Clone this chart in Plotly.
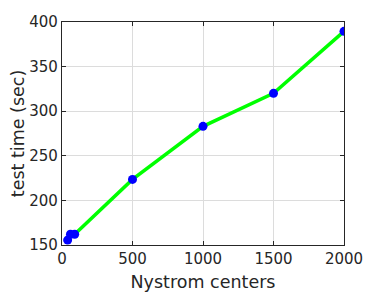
import plotly.graph_objects as go

centers = [40, 60, 90, 500, 1000, 1500, 2000]
test_time = [155.5, 162, 162, 223.5, 283, 320, 389.5]

fig = go.Figure()
fig.add_trace(go.Scatter(
    x=centers, y=test_time,
    mode="lines+markers",
    line=dict(color="#00ff00", width=3.5),
    marker=dict(color="#0000ff", size=9),
    showlegend=False,
))

axis_common = dict(
    showline=True, linecolor="#262626", linewidth=1.2, mirror="ticks",
    ticks="inside", ticklen=4, tickcolor="#262626",
    showgrid=True, gridcolor="#dcdcdc", gridwidth=1,
    zeroline=False, automargin=False,
    tickfont=dict(size=15, color="#262626"),
)

# page body has an 8px margin, so the figure is a bit smaller than the window
fig.update_layout(
    width=372, height=286,
    margin=dict(l=54, r=36, t=14, b=49),
    paper_bgcolor="white", plot_bgcolor="white",
    font=dict(family="DejaVu Sans", color="#262626"),
    xaxis=dict(range=[0, 2000], tickvals=[0, 500, 1000, 1500, 2000],
               title=dict(text="Nystrom centers", font=dict(size=17.5), standoff=8),
               **axis_common),
    yaxis=dict(range=[150, 400], tickvals=[150, 200, 250, 300, 350, 400],
               title=dict(text="test time (sec)", font=dict(size=17.5), standoff=8),
               **axis_common),
)

fig.write_html("out.html")
